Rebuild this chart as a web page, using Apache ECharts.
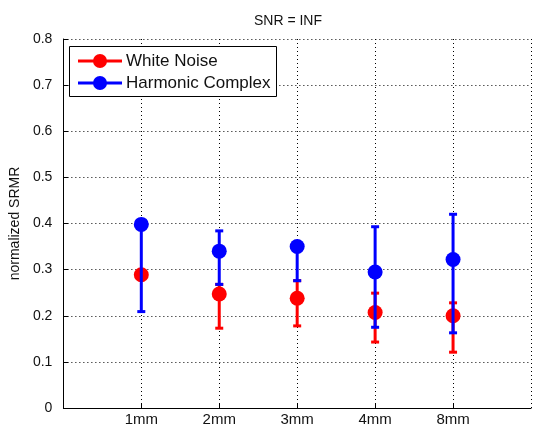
<!DOCTYPE html>
<html>
<head>
<meta charset="utf-8">
<script src="https://cdn.jsdelivr.net/npm/echarts@6/dist/echarts.min.js"></script>
<style>
  html, body { margin: 0; padding: 0; background: #fff; }
  #chart { width: 533px; height: 427px; }
</style>
</head>
<body>
<div id="chart"></div>
<script>
// Electrode spacings and normalized SRMR (mean with lower/upper error ends)
const categories = ['1mm', '2mm', '3mm', '4mm', '8mm'];
const seriesNames = ['White Noise', 'Harmonic Complex'];
const whiteMean = [0.289, 0.247, 0.238, 0.207, 0.200];
const whiteLow  = [0.289, 0.173, 0.178, 0.143, 0.121];
const whiteHigh = [0.289, 0.268, 0.276, 0.249, 0.228];
const harmMean  = [0.398, 0.340, 0.350, 0.295, 0.322];
const harmLow   = [0.209, 0.268, 0.276, 0.175, 0.163];
const harmHigh  = [0.398, 0.384, 0.352, 0.393, 0.420];
const yTicks = [0, 0.1, 0.2, 0.3, 0.4, 0.5, 0.6, 0.7, 0.8];

const FONT = '"Liberation Sans", Arial, sans-serif';
const RED = '#ff0000';
const BLUE = '#0000ff';

// padded category axis: empty slot on each side
const axisCats = [''].concat(categories, ['']);

function rows(mean, lo, hi) {
  return categories.map((c, i) => [i + 1, mean[i], lo[i], hi[i]]);
}

function errorBarItem(color) {
  return function (params, api) {
    const x = api.value(0);
    const pMean = api.coord([x, api.value(1)]);
    const pLo = api.coord([x, api.value(2)]);
    const pHi = api.coord([x, api.value(3)]);
    const capW = 4;
    const line = { stroke: color, lineWidth: 3 };
    return {
      type: 'group',
      children: [
        { type: 'line', shape: { x1: pLo[0], y1: pLo[1], x2: pHi[0], y2: pHi[1] }, style: line },
        { type: 'line', shape: { x1: pLo[0] - capW, y1: pLo[1], x2: pLo[0] + capW, y2: pLo[1] }, style: line },
        { type: 'line', shape: { x1: pHi[0] - capW, y1: pHi[1], x2: pHi[0] + capW, y2: pHi[1] }, style: line },
        { type: 'circle', shape: { cx: pMean[0], cy: pMean[1], r: 7.5 }, style: { fill: color } }
      ]
    };
  };
}

const chart = echarts.init(document.getElementById('chart'), null, { renderer: 'canvas' });

const legendRows = [
  { name: seriesNames[0], color: RED, y: 61 },
  { name: seriesNames[1], color: BLUE, y: 83 }
];
const legendGraphics = [{
  type: 'rect', z: 100,
  shape: { x: 69.5, y: 46.5, width: 207, height: 50 },
  style: { fill: '#fff', stroke: '#000', lineWidth: 1 }
}];
legendRows.forEach(r => {
  legendGraphics.push(
    { type: 'line', z: 101, shape: { x1: 78, y1: r.y, x2: 122, y2: r.y }, style: { stroke: r.color, lineWidth: 3 } },
    { type: 'circle', z: 101, shape: { cx: 100, cy: r.y, r: 7 }, style: { fill: r.color } },
    { type: 'text', z: 101, x: 126, y: r.y, style: { text: r.name, font: '17px ' + FONT, fill: '#111', textVerticalAlign: 'middle' } }
  );
});

chart.setOption({
  animation: false,
  backgroundColor: '#fff',
  title: {
    text: 'SNR = INF',
    left: 283, top: 9, textAlign: 'center',
    textStyle: { fontFamily: FONT, fontSize: 14, fontWeight: 'normal', color: '#111' }
  },
  grid: { left: 62, right: 2, top: 39, bottom: 18, containLabel: false },
  xAxis: {
    type: 'category',
    data: axisCats,
    boundaryGap: false,
    axisLine: { lineStyle: { color: '#000', width: 1 } },
    axisTick: { inside: true, length: 5, lineStyle: { color: '#000' },
      interval: (i) => i >= 1 && i <= categories.length },
    axisLabel: { color: '#111', fontFamily: FONT, fontSize: 15, margin: 4,
      interval: (i) => i >= 1 && i <= categories.length },
    splitLine: { show: true, interval: (i) => i >= 1,
      lineStyle: { color: '#000', type: [1, 3], width: 1 } }
  },
  yAxis: {
    type: 'value',
    min: yTicks[0], max: yTicks[yTicks.length - 1], interval: 0.1,
    name: 'normalized SRMR',
    nameLocation: 'middle',
    nameGap: 34,
    nameTextStyle: { fontFamily: FONT, fontSize: 14, color: '#111' },
    axisLine: { show: true, lineStyle: { color: '#000', width: 1 } },
    axisTick: { show: true, inside: true, length: 5, lineStyle: { color: '#000' } },
    axisLabel: { color: '#111', fontFamily: FONT, fontSize: 14, margin: 11,
      formatter: (v) => v === 0 ? '0' : v.toFixed(1) },
    splitLine: { show: true, lineStyle: { color: '#000', type: [1, 3], width: 1 } }
  },
  series: [
    { name: seriesNames[0], type: 'custom', renderItem: errorBarItem(RED),
      data: rows(whiteMean, whiteLow, whiteHigh), encode: { x: 0, y: [1, 2, 3] }, z: 2 },
    { name: seriesNames[1], type: 'custom', renderItem: errorBarItem(BLUE),
      data: rows(harmMean, harmLow, harmHigh), encode: { x: 0, y: [1, 2, 3] }, z: 3 }
  ],
  graphic: legendGraphics
});
</script>
</body>
</html>
